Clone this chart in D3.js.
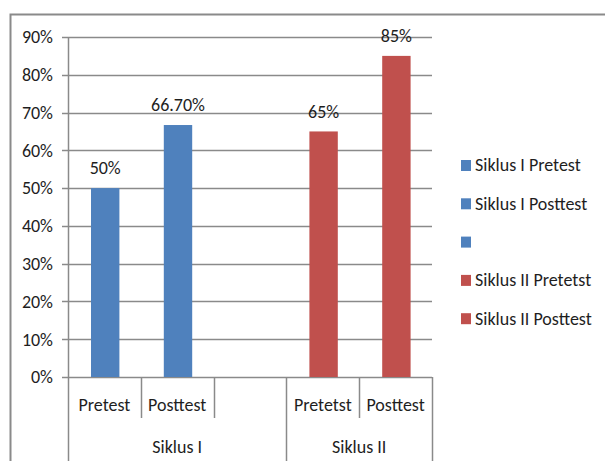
<!DOCTYPE html>
<html>
<head>
<meta charset="utf-8">
<script src="https://cdn.jsdelivr.net/npm/d3@7"></script>
<style>
  body { margin: 0; background: #fff; }
  svg text { font-family: Carlito, 'Liberation Sans Narrow', 'DejaVu Sans Condensed', sans-serif; fill: #1e1e1e; }
</style>
</head>
<body>
<svg id="chart" width="605" height="461"></svg>
<script>
// chart data
const categories = ['Pretest', 'Posttest', '', 'Pretetst', 'Posttest'];
const categoryGroups = ['Siklus I', 'Siklus I', 'Siklus I', 'Siklus II', 'Siklus II'];
const groups = ['Siklus I', 'Siklus II'];
const values = [50, 66.7, null, 65, 85];
const valueLabels = ['50%', '66.70%', '', '65%', '85%'];
const seriesNames = ['Siklus I Pretest', 'Siklus I Posttest', '', 'Siklus II Pretetst', 'Siklus II Posttest'];
const yTicks = [0, 10, 20, 30, 40, 50, 60, 70, 80, 90];

const groupColor = { 'Siklus I': '#4f81bd', 'Siklus II': '#c0504d' };
const gridColor = '#8a8a8a';
const fontSize = 18;

const svg = d3.select('#chart');

// outer frame (clipped at right and bottom)
svg.append('path')
  .attr('d', 'M10.5,461 V14.5 H605')
  .attr('fill', 'none')
  .attr('stroke', gridColor)
  .attr('stroke-width', 2);

const x = d3.scaleBand()
  .domain(d3.range(categories.length))
  .range([68, 432])
  .padding(0);

const y = d3.scaleLinear()
  .domain([0, 90])
  .range([377, 37]);

const bw = x.bandwidth();

// gridlines + y ticks
svg.append('g')
  .selectAll('line')
  .data(yTicks)
  .enter().append('line')
  .attr('x1', 62)
  .attr('x2', 432)
  .attr('y1', d => Math.round(y(d)) + 0.5)
  .attr('y2', d => Math.round(y(d)) + 0.5)
  .attr('stroke', gridColor)
  .attr('stroke-width', 1.5);

svg.append('g')
  .selectAll('text')
  .data(yTicks)
  .enter().append('text')
  .attr('x', 53)
  .attr('y', d => y(d))
  .attr('dy', '0.35em')
  .attr('text-anchor', 'end')
  .attr('font-size', fontSize)
  .text(d => d + '%');

// y axis line
svg.append('line')
  .attr('x1', 68.5).attr('x2', 68.5)
  .attr('y1', y(90)).attr('y2', 461)
  .attr('stroke', gridColor)
  .attr('stroke-width', 1.5);

// bars
const barData = values.map((v, i) => ({ v, i })).filter(d => d.v != null);

svg.append('g')
  .selectAll('rect')
  .data(barData)
  .enter().append('rect')
  .attr('x', d => x(d.i) + bw * 0.316)
  .attr('width', bw * 0.39)
  .attr('y', d => y(d.v))
  .attr('height', d => y(0) - y(d.v))
  .attr('fill', d => groupColor[categoryGroups[d.i]]);

// value labels
svg.append('g')
  .selectAll('text')
  .data(barData)
  .enter().append('text')
  .attr('x', d => x(d.i) + bw * 0.511)
  .attr('y', d => y(d.v) - 20)
  .attr('dy', '0.35em')
  .attr('text-anchor', 'middle')
  .attr('font-size', fontSize)
  .text(d => valueLabels[d.i]);

// category axis: separators
const catAxis = svg.append('g');
d3.range(1, categories.length + 1).forEach(i => {
  const xe = i < categories.length ? x(i) : x(i - 1) + bw;
  const groupEdge = i === categories.length || categoryGroups[i] !== categoryGroups[i - 1];
  catAxis.append('line')
    .attr('x1', Math.round(xe) + 0.5).attr('x2', Math.round(xe) + 0.5)
    .attr('y1', y(0)).attr('y2', groupEdge ? 461 : 418)
    .attr('stroke', gridColor)
    .attr('stroke-width', 1.5);
});

catAxis.selectAll('text.cat')
  .data(categories)
  .enter().append('text')
  .attr('class', 'cat')
  .attr('x', (d, i) => x(i) + bw / 2)
  .attr('y', 405)
  .attr('dy', '0.35em')
  .attr('text-anchor', 'middle')
  .attr('font-size', fontSize)
  .text(d => d);

catAxis.selectAll('text.grp')
  .data(groups)
  .enter().append('text')
  .attr('class', 'grp')
  .attr('x', g => {
    const idx = categoryGroups.map((c, i) => c === g ? i : -1).filter(i => i >= 0);
    return (x(idx[0]) + x(idx[idx.length - 1]) + bw) / 2;
  })
  .attr('y', 447)
  .attr('dy', '0.35em')
  .attr('text-anchor', 'middle')
  .attr('font-size', fontSize)
  .text(d => d);

// legend
const legend = svg.append('g')
  .selectAll('g')
  .data(seriesNames)
  .enter().append('g')
  .attr('transform', (d, i) => `translate(461, ${165 + i * 38.3})`);

legend.append('rect')
  .attr('x', 0).attr('y', -5)
  .attr('width', 10).attr('height', 11)
  .attr('fill', (d, i) => groupColor[categoryGroups[i]]);

legend.append('text')
  .attr('x', 14)
  .attr('y', 0)
  .attr('dy', '0.35em')
  .attr('font-size', fontSize)
  .text(d => d);
</script>
</body>
</html>
